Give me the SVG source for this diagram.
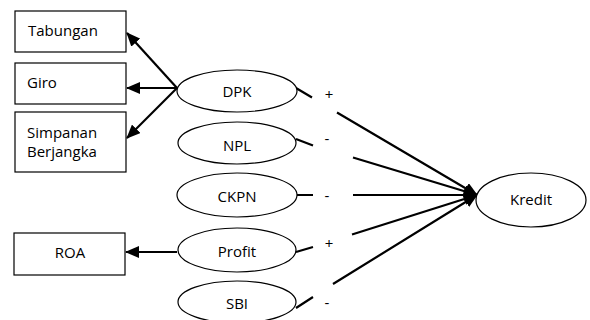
<svg xmlns="http://www.w3.org/2000/svg" width="590" height="320" viewBox="0 0 590 320">
<style>
.box{fill:#fff;stroke:#000;stroke-width:1.2}
.ell{fill:#fff;stroke:#000;stroke-width:1.2}
.t{font-family:"Open Sans","Liberation Sans",sans-serif;font-size:15px;fill:#000}
.c{text-anchor:middle}
.con{fill:none;stroke:#000;stroke-width:2.2}
</style>
<defs>
<marker id="ah" markerUnits="userSpaceOnUse" markerWidth="14" markerHeight="12" viewBox="0 0 14 12" refX="13" refY="6" orient="auto">
<path d="M0,0 L14,6 L0,12 Z" fill="#000"/>
</marker>
</defs>
<rect width="590" height="320" fill="#fff"/>
<g id="connectors">
<path class="con" d="M177,88 L127,33" marker-end="url(#ah)"/>
<path class="con" d="M177,88 L127,88" marker-end="url(#ah)"/>
<path class="con" d="M177,88 L127,138" marker-end="url(#ah)"/>
<path class="con" d="M177,252 L126,252" marker-end="url(#ah)"/>
<path class="con" d="M296,88 L312,97.5 M337,112.5 L477,195" marker-end="url(#ah)"/>
<path class="con" d="M296,139 L313,145.5 M353,157.5 L477,195" marker-end="url(#ah)"/>
<path class="con" d="M297,195 L313,195 M353,195 L477,195" marker-end="url(#ah)"/>
<path class="con" d="M296,252 L313,247 M352,234.5 L477,195" marker-end="url(#ah)"/>
<path class="con" d="M296,308 L313,297 M333,284 L477,195" marker-end="url(#ah)"/>
</g>
<g id="tabungan"><rect class="box" x="15" y="11" width="111" height="41"/><text class="t" x="28" y="36">Tabungan</text></g>
<g id="giro"><rect class="box" x="15" y="63" width="111" height="41"/><text class="t" x="27" y="88">Giro</text></g>
<g id="simpanan"><rect class="box" x="15" y="112" width="111" height="60"/><text class="t" x="27" y="138">Simpanan</text><text class="t" x="27" y="157">Berjangka</text></g>
<g id="roa"><rect class="box" x="14" y="233" width="111" height="42"/><text class="t c" x="70" y="258">ROA</text></g>
<g id="dpk"><ellipse class="ell" cx="237" cy="91" rx="60" ry="21"/><text class="t c" x="237" y="97">DPK</text></g>
<g id="npl"><ellipse class="ell" cx="237" cy="143" rx="59" ry="21"/><text class="t c" x="237" y="151">NPL</text></g>
<g id="ckpn"><ellipse class="ell" cx="237" cy="195" rx="60" ry="22"/><text class="t c" x="237" y="202">CKPN</text></g>
<g id="profit"><ellipse class="ell" cx="237" cy="250" rx="59" ry="22"/><text class="t c" x="237" y="257">Profit</text></g>
<g id="sbi"><ellipse class="ell" cx="237" cy="302" rx="59" ry="21"/><text class="t c" x="237" y="309">SBI</text></g>
<g id="kredit"><ellipse class="ell" cx="531" cy="200" rx="55" ry="27"/><text class="t c" x="531" y="205">Kredit</text></g>
<g id="labels">
<text class="t c" x="329" y="100">+</text>
<text class="t c" x="327" y="144">-</text>
<text class="t c" x="327" y="201">-</text>
<text class="t c" x="329" y="249">+</text>
<text class="t c" x="327" y="308">-</text>
</g>
</svg>
